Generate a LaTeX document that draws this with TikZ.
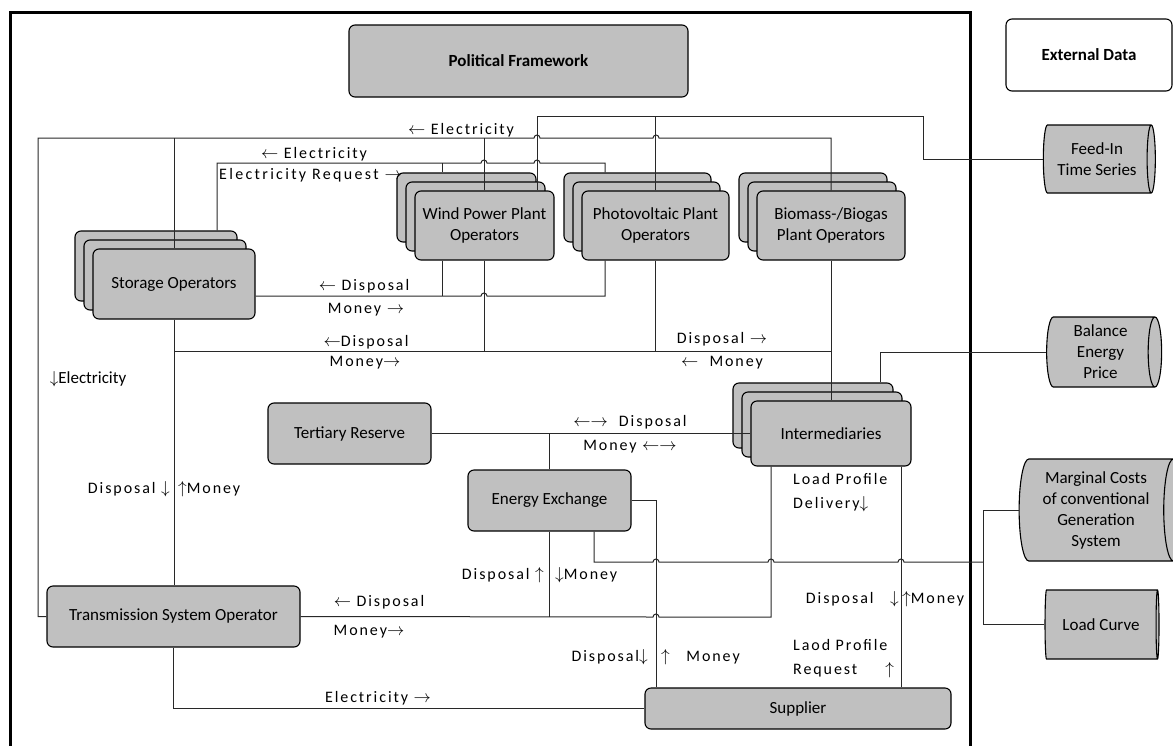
\documentclass[tikz,border=0pt]{standalone}
\usepackage{fontspec}
\setmainfont{Carlito}
\newfontfamily\spacedfont[LetterSpace=12]{Carlito}
\newfontfamily\widefont[LetterSpace=14.5]{Carlito}
\usetikzlibrary{shapes.geometric}
\definecolor{boxgray}{RGB}{192,192,192}
\definecolor{wirecol}{RGB}{40,40,40}
\newcommand\arL{$\leftarrow$}
\newcommand\arR{$\rightarrow$}
\newcommand\arU{$\uparrow$}
\newcommand\arD{$\downarrow$}
\tikzset{
	box/.style={draw=black, fill=boxgray, rounded corners=6pt, line width=1.1pt, align=center, inner sep=0pt, font=\fontsize{17}{21}\selectfont},
	datacyl/.style={cylinder, draw=black, fill=boxgray, shape border rotate=0, aspect=0.25, line width=1.1pt, align=center, inner sep=0pt, font=\fontsize{17}{21}\selectfont},
	lbl/.style={font=\spacedfont\fontsize{16}{24}\selectfont, inner sep=0pt, align=left},
	wire/.style={draw=wirecol, line width=1pt},
}
% three stacked boxes: name, centre of front box, width, height, text
\def\stackbox(#1)(#2,#3)#4#5#6{%
	\node[box, minimum width=#4, minimum height=#5] (#11) at ({#2-18},{#3-18}) {};
	\node[box, minimum width=#4, minimum height=#5] (#12) at ({#2-9},{#3-9}) {};
	\node[box, minimum width=#4, minimum height=#5] (#1) at (#2,#3) {#6};}

\begin{document}
\begin{tikzpicture}[x=1pt, y=-1pt]
	%%%%% START %%%%%
	\useasboundingbox (0,0) rectangle (1173,745);
	
	\draw[line width=3pt] (10,748) -- (10,12) -- (970,12) -- (970,748);
	
	\node[box, font=\bfseries\fontsize{17}{21}\selectfont, minimum width=339pt, minimum height=72pt] (polfw) at (518.5,61) {Political Framework};
	\node[box, fill=white, font=\bfseries\fontsize{17}{21}\selectfont, minimum width=166pt, minimum height=72pt] (extdata) at (1089,55) {External Data};
	
	\stackbox(stor)(174,284){162pt}{70pt}{Storage Operators}
	\stackbox(wind)(484.5,225.5){139pt}{69pt}{Wind Power Plant\\Operators}
	\stackbox(pv)(655.5,225.5){147pt}{69pt}{Photovoltaic Plant\\Operators}
	\stackbox(bio)(831,225.5){148pt}{69pt}{Biomass-/Biogas\\Plant Operators}
	\stackbox(inter)(831,433.5){160pt}{65pt}{Intermediaries}
	
	\node[box, minimum width=163pt, minimum height=61pt] (tert) at (349.5,433.5) {Tertiary Reserve};
	\node[box, minimum width=163pt, minimum height=61pt] (ee) at (549.5,500.5) {Energy Exchange};
	\node[box, minimum width=253pt, minimum height=61pt] (tso) at (173.5,616.5) {Transmission System Operator};
	\node[box, minimum width=306pt, minimum height=41pt] (sup) at (798,708.5) {Supplier};
	
	\node[datacyl, minimum width=68pt, minimum height=112pt] (feed) at (1097,159) {Feed-In\\Time Series};
	\node[datacyl, minimum width=70pt, minimum height=115pt] (bal) at (1100.5,352) {Balance\\Energy\\Price};
	\node[datacyl, minimum width=102pt, minimum height=164pt] (marg) at (1096,510) {Marginal Costs\\of conventional\\Generation\\System};
	\node[datacyl, minimum width=69pt, minimum height=114pt] (load) at (1101,624.5) {Load Curve};
	
	% electricity lines at the top
	\draw[wire] (tso.west) -| (38,138) -- (534,138) arc (180:0:3pt) -- (653,138) arc (180:0:3pt) -| (bio.north);
	\draw[wire] (stor.north) -- (stor.north |- 0,138);
	\draw[wire] (wind.north) -- (wind.north |- 0,138);
	\draw[wire] (feed.west) -| (923,116) -| (537,0 |- wind.north);
	\draw[wire] (pv.north) -- (pv.north |- 0,116);
	\draw[wire] (217,0 |- stor1.north) |- (481,163) arc (180:0:3pt) -- (534,163) arc (180:0:3pt) -| (605,0 |- pv1.north);
	\draw[wire] (442,163) -- (442,0 |- wind1.north);
	
	% disposal and money
	\draw[wire] (stor.east |- 0,296) -- (481,296) arc (180:0:3pt) -| (605,0 |- pv.south);
	\draw[wire] (442,0 |- wind.south) -- (442,296);
	\draw[wire] (stor.south) -- (stor.south |- tso.north);
	\draw[wire] (stor.south |- 0,351) -- (bio.south |- 0,351);
	\draw[wire] (wind.south) -- (wind.south |- 0,351);
	\draw[wire] (pv.south) -- (pv.south |- 0,351);
	\draw[wire] (bio.south) -- (inter.north);
	\draw[wire] (bal.west) -| (880,0 |- inter1.north);
	\draw[wire] (tert.east) -- (inter.west);
	\draw[wire] (ee.north) -- (ee.north |- tert.east);
	\draw[wire] (tso.east) -- (653,617) arc (180:0:3pt) -| (771,0 |- inter.south);
	\draw[wire] (ee.south) -- (ee.south |- 0,617);
	\draw[wire] (ee.east) -| (656,0 |- sup.north);
	\draw[wire] (marg.west) -- (983,0 |- marg.west) |- (load.west);
	\draw[wire] (983,562) -- (904,562) arc (0:180:3pt) -- (774,562) arc (0:180:3pt) -- (659,562) arc (0:180:3pt) -| (594,0 |- ee.south);
	\draw[wire] (901,0 |- inter.south) -- (901,0 |- sup.north);
	\draw[wire] (tso.south) |- (sup.west);
	
	% labels
	\node[lbl] (lelec1) at (461,130) {\arL\ Electricity};
	\node[lbl] (lelec2) at (314,154) {\arL\ Electricity};
	\node[lbl, font=\widefont\fontsize{16}{24}\selectfont, anchor=west] (lreq) at (219,175) {Electricity Request \arR};
	\node[lbl] (ldisp1) at (364,286) {\arL\ Disposal};
	\node[lbl] (lmon1) at (366,310) {Money \arR};
	\node[lbl] (ldisp2) at (366,342) {\arL Disposal};
	\node[lbl] (lmon2) at (365,363) {Money\arR};
	\node[font=\fontsize{17}{20}\selectfont, inner sep=0pt] (lelec3) at (88,379) {\arD Electricity};
	\node[lbl, anchor=east] (ldisp3) at (170,489) {Disposal \arD};
	\node[lbl, anchor=west] (lmon3) at (178,489) {\arU Money};
	\node[lbl] (ldisp4) at (722,339) {Disposal \arR};
	\node[lbl] (lmon4) at (722,363) {\arL\ \ Money};
	\node[lbl] (ldisp5) at (630,422) {\arL\arR\ \ Disposal};
	\node[lbl] (lmon5) at (630,447) {Money \arL\arR};
	\node[lbl, anchor=north west] (ldeliv) at (793,473) {Load Profile\\Delivery\arD};
	\node[lbl, anchor=east] (ldisp6) at (544,575) {Disposal \arU};
	\node[lbl, anchor=west] (lmon6) at (555,575) {\arD Money};
	\node[lbl] (ldisp7) at (379,602) {\arL\ Disposal};
	\node[lbl] (lmon7) at (369,632) {Money\arR};
	\node[lbl, anchor=east] (ldisp8) at (899,599) {Disposal\ \ \ \arD};
	\node[lbl, anchor=west] (lmon8) at (902,599) {\arU Money};
	\node[lbl, anchor=east] (ldisp9) at (648,657) {Disposal\arD};
	\node[lbl, anchor=west] (lmon9) at (661,657) {\arU\ \ \ Money};
	\node[lbl, anchor=north west] (lreqlp) at (793,639) {Laod Profile\\Request\hspace{28pt}\arU};
	\node[lbl] (lelec4) at (378,698) {Electricity \arR};
	%%%%% END %%%%%
\end{tikzpicture}
\end{document}
